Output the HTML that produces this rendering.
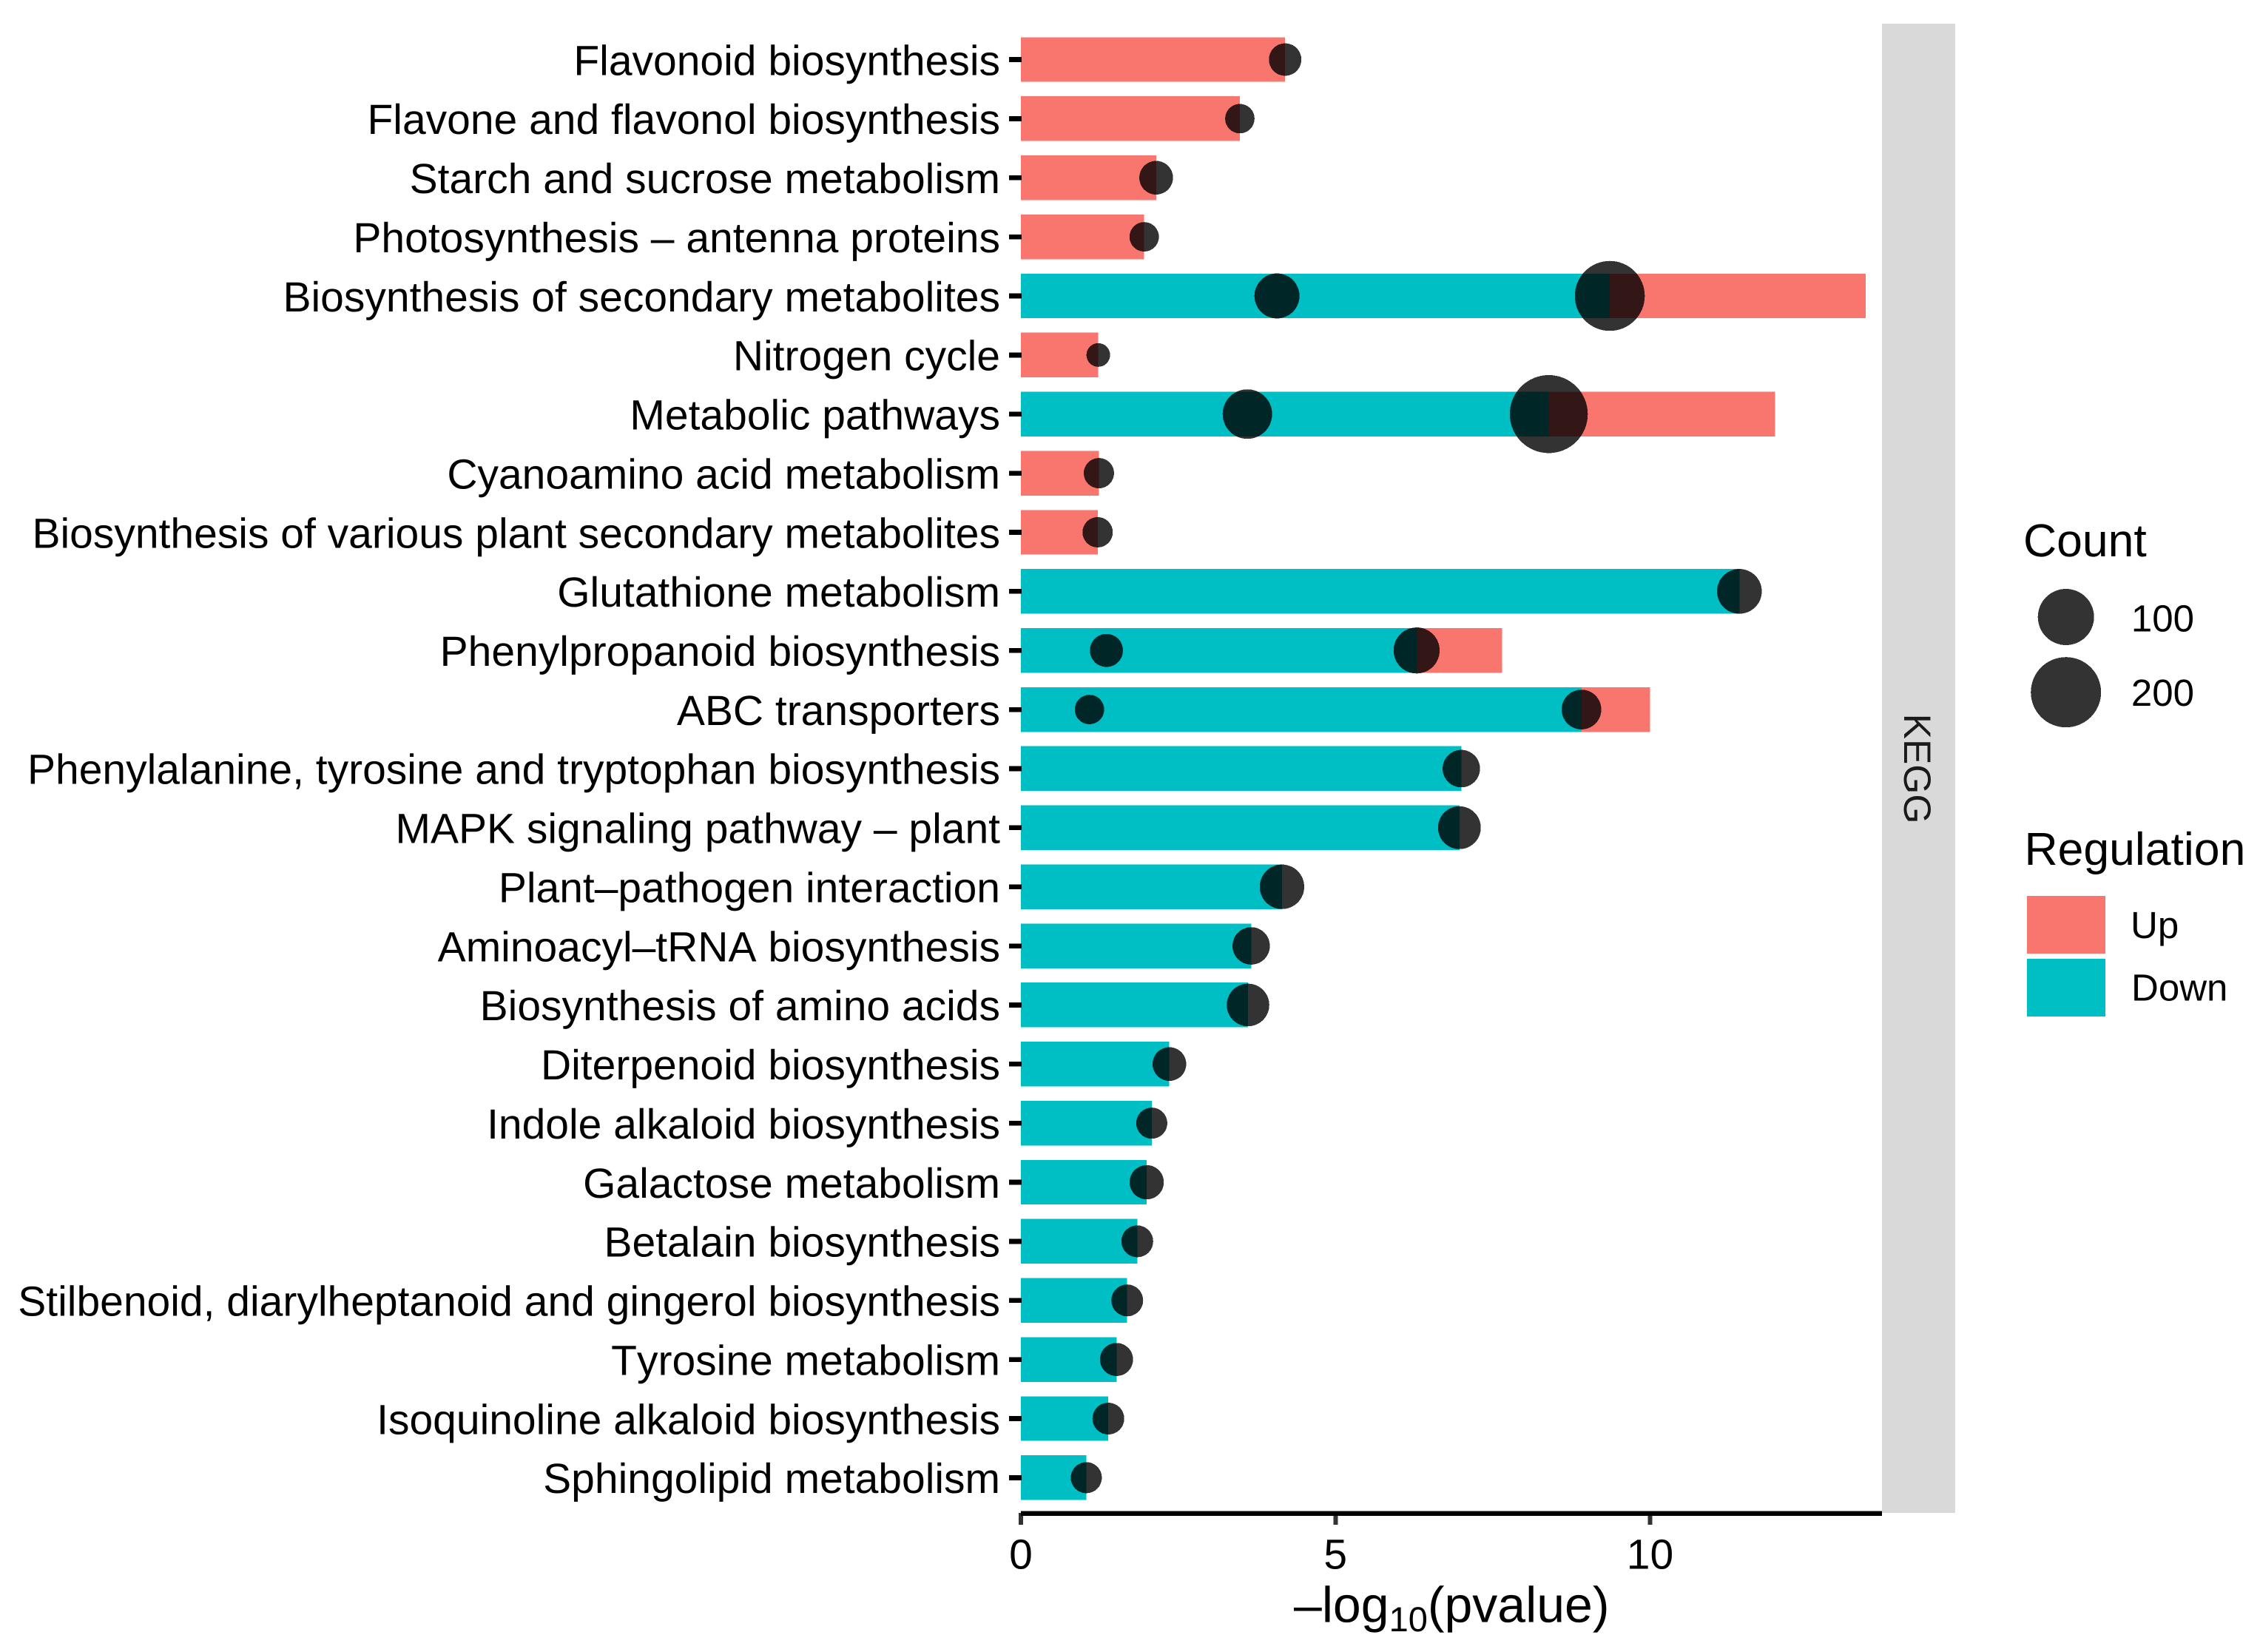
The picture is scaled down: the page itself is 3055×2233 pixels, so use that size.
<!DOCTYPE html>
<html lang="en">
<head>
<meta charset="utf-8">
<title>KEGG enrichment chart</title>
<style>
html,body{margin:0;padding:0;background:#fff;}
svg{display:block;}
text{font-family:"Liberation Sans",Arial,sans-serif;fill:#000;font-kerning:none;text-rendering:geometricPrecision;}
</style>
</head>
<body>
<svg id="chart" xmlns="http://www.w3.org/2000/svg" width="3055" height="2233" viewBox="0 0 3055 2233">
  <rect x="0" y="0" width="3055" height="2233" fill="#fff"/>
  <g id="bars" shape-rendering="crispEdges"></g>
  <g id="points" shape-rendering="crispEdges"></g>
  <g id="y-axis"></g>
  <g id="x-axis"></g>
  <text x="1749" y="2192.7" font-size="68">–log<tspan font-size="47" dy="12.5">10</tspan><tspan dy="-12.5">(pvalue)</tspan></text>
  <rect x="2544" y="32" width="99" height="2013" fill="#d9d9d9" shape-rendering="crispEdges"/>
  <text transform="translate(2574,1039) rotate(90)" text-anchor="middle" font-size="51.5" style="fill:#1a1a1a">KEGG</text>
  <g>
    <text x="2735" y="752" font-size="62.5">Count</text>
    <g id="size-keys"></g>
  </g>
  <g>
    <text x="2736.5" y="1169" font-size="62.5">Regulation</text>
    <rect x="2740" y="1211" width="106" height="78" fill="#F8766D" shape-rendering="crispEdges"/>
    <text x="2880" y="1268" font-size="51">Up</text>
    <rect x="2740" y="1296" width="106" height="78" fill="#00BFC4" shape-rendering="crispEdges"/>
    <text x="2881" y="1352.7" font-size="51">Down</text>
  </g>
</svg>
<script>
const categories = [
  "Flavonoid biosynthesis",
  "Flavone and flavonol biosynthesis",
  "Starch and sucrose metabolism",
  "Photosynthesis – antenna proteins",
  "Biosynthesis of secondary metabolites",
  "Nitrogen cycle",
  "Metabolic pathways",
  "Cyanoamino acid metabolism",
  "Biosynthesis of various plant secondary metabolites",
  "Glutathione metabolism",
  "Phenylpropanoid biosynthesis",
  "ABC transporters",
  "Phenylalanine, tyrosine and tryptophan biosynthesis",
  "MAPK signaling pathway – plant",
  "Plant–pathogen interaction",
  "Aminoacyl–tRNA biosynthesis",
  "Biosynthesis of amino acids",
  "Diterpenoid biosynthesis",
  "Indole alkaloid biosynthesis",
  "Galactose metabolism",
  "Betalain biosynthesis",
  "Stilbenoid, diarylheptanoid and gingerol biosynthesis",
  "Tyrosine metabolism",
  "Isoquinoline alkaloid biosynthesis",
  "Sphingolipid metabolism"
];
const upValues = [4.2, 3.48, 2.15, 1.96, 4.07, 1.23, 3.6, 1.24, 1.22, 0, 1.36, 1.09, 0, 0, 0, 0, 0, 0, 0, 0, 0, 0, 0, 0, 0];
const downValues = [0, 0, 0, 0, 9.36, 0, 8.39, 0, 0, 11.42, 6.29, 8.91, 7.0, 6.97, 4.15, 3.66, 3.61, 2.36, 2.08, 2.0, 1.85, 1.69, 1.52, 1.39, 1.04];
const upCounts = [12, 8, 14, 8, 46, 5, 65, 9, 9, 0, 13, 8, 0, 0, 0, 0, 0, 0, 0, 0, 0, 0, 0, 0, 0];
const downCounts = [0, 0, 0, 0, 197, 0, 270, 0, 0, 45, 50, 28, 22, 38, 44, 22, 37, 14, 10, 15, 11, 11, 13, 11, 10];
const xTickValues = [0, 5, 10];
const xTickLabels = ["0", "5", "10"];
const sizeLegendCounts = [100, 200];
const sizeLegendLabels = ["100", "200"];

const SVG_NS = "http://www.w3.org/2000/svg";
const xScale = function (v) { return 1380 + 85.05 * v; };
const yScale = function (i) { return 80.5 + 79.87 * i; };
const radiusScale = function (c) { return 16 + 2.256 * Math.sqrt(Math.max(c - 5, 0)); };
const BAR_HALF = 30.2;

function make(tag, parent) {
  const el = document.createElementNS(SVG_NS, tag);
  parent.appendChild(el);
  return el;
}
function slug(s) {
  return s.toLowerCase().replace(/[^a-z0-9]+/g, "-").replace(/^-|-$/g, "");
}

const barsGroup = document.getElementById("bars");
const pointsGroup = document.getElementById("points");
const yAxisGroup = document.getElementById("y-axis");
const xAxisGroup = document.getElementById("x-axis");
const sizeKeysGroup = document.getElementById("size-keys");

function drawBar(parent, from, to, i, color, name) {
  const bar = make("rect", parent);
  
  
  bar.setAttribute("x", xScale(from));
  bar.setAttribute("y", yScale(i) - BAR_HALF);
  bar.setAttribute("width", xScale(to) - xScale(from));
  bar.setAttribute("height", BAR_HALF * 2);
  bar.setAttribute("fill", color);
}
function drawPoint(parent, value, i, count, name) {
  const dot = make("circle", parent);
  
  
  dot.setAttribute("cx", xScale(value));
  dot.setAttribute("cy", yScale(i));
  dot.setAttribute("r", radiusScale(count));
  dot.setAttribute("fill", "#000");
  dot.setAttribute("fill-opacity", "0.8");
}

categories.forEach(function (cat, i) {
  const key = slug(cat);
  if (downValues[i] > 0) {
    drawBar(barsGroup, 0, downValues[i], i, "#00BFC4", "bar-down-" + key);
  }
  if (upValues[i] > 0) {
    drawBar(barsGroup, downValues[i], downValues[i] + upValues[i], i, "#F8766D", "bar-up-" + key);
  }
});
categories.forEach(function (cat, i) {
  const key = slug(cat);
  if (upValues[i] > 0) {
    drawPoint(pointsGroup, upValues[i], i, upCounts[i], "point-up-" + key);
  }
  if (downValues[i] > 0) {
    drawPoint(pointsGroup, downValues[i], i, downCounts[i], "point-down-" + key);
  }
});

categories.forEach(function (cat, i) {
  const key = slug(cat);
  const label = make("text", yAxisGroup);
  
  
  label.setAttribute("x", 1352);
  label.setAttribute("y", yScale(i) + 20.8);
  label.setAttribute("text-anchor", "end");
  label.setAttribute("font-size", "57");
  label.textContent = cat;

  const tick = make("rect", yAxisGroup);
  
  
  tick.setAttribute("x", 1364);
  tick.setAttribute("y", yScale(i) - 3.3);
  tick.setAttribute("width", 17);
  tick.setAttribute("height", 6.7);
  tick.setAttribute("fill", "#000");
  tick.setAttribute("shape-rendering", "crispEdges");
});

xTickValues.forEach(function (v, i) {
  const tick = make("rect", xAxisGroup);
  
  
  tick.setAttribute("x", xScale(v) - 3);
  tick.setAttribute("y", 2045);
  tick.setAttribute("width", 6);
  tick.setAttribute("height", 16);
  tick.setAttribute("fill", "#333");
  tick.setAttribute("shape-rendering", "crispEdges");

  const label = make("text", xAxisGroup);
  
  
  label.setAttribute("x", xScale(v));
  label.setAttribute("y", 2120.5);
  label.setAttribute("text-anchor", "middle");
  label.setAttribute("font-size", "57");
  label.textContent = xTickLabels[i];
});
const axisLine = make("rect", xAxisGroup);


axisLine.setAttribute("x", 1380);
axisLine.setAttribute("y", 2042.3);
axisLine.setAttribute("width", 1164);
axisLine.setAttribute("height", 6.7);
axisLine.setAttribute("fill", "#000");
axisLine.setAttribute("shape-rendering", "crispEdges");

const legendKeyCenters = [834, 935.7];
const legendLabelBaselines = [853.3, 954];
sizeLegendCounts.forEach(function (c, i) {
  const key = make("circle", sizeKeysGroup);
  
  
  key.setAttribute("cx", 2792.7);
  key.setAttribute("cy", legendKeyCenters[i]);
  key.setAttribute("r", radiusScale(c));
  key.setAttribute("fill", "#000");
  key.setAttribute("fill-opacity", "0.8");
  key.setAttribute("shape-rendering", "crispEdges");

  const label = make("text", sizeKeysGroup);
  
  
  label.setAttribute("x", 2966);
  label.setAttribute("y", legendLabelBaselines[i]);
  label.setAttribute("text-anchor", "end");
  label.setAttribute("font-size", "51");
  label.textContent = sizeLegendLabels[i];
});
</script>
</body>
</html>
